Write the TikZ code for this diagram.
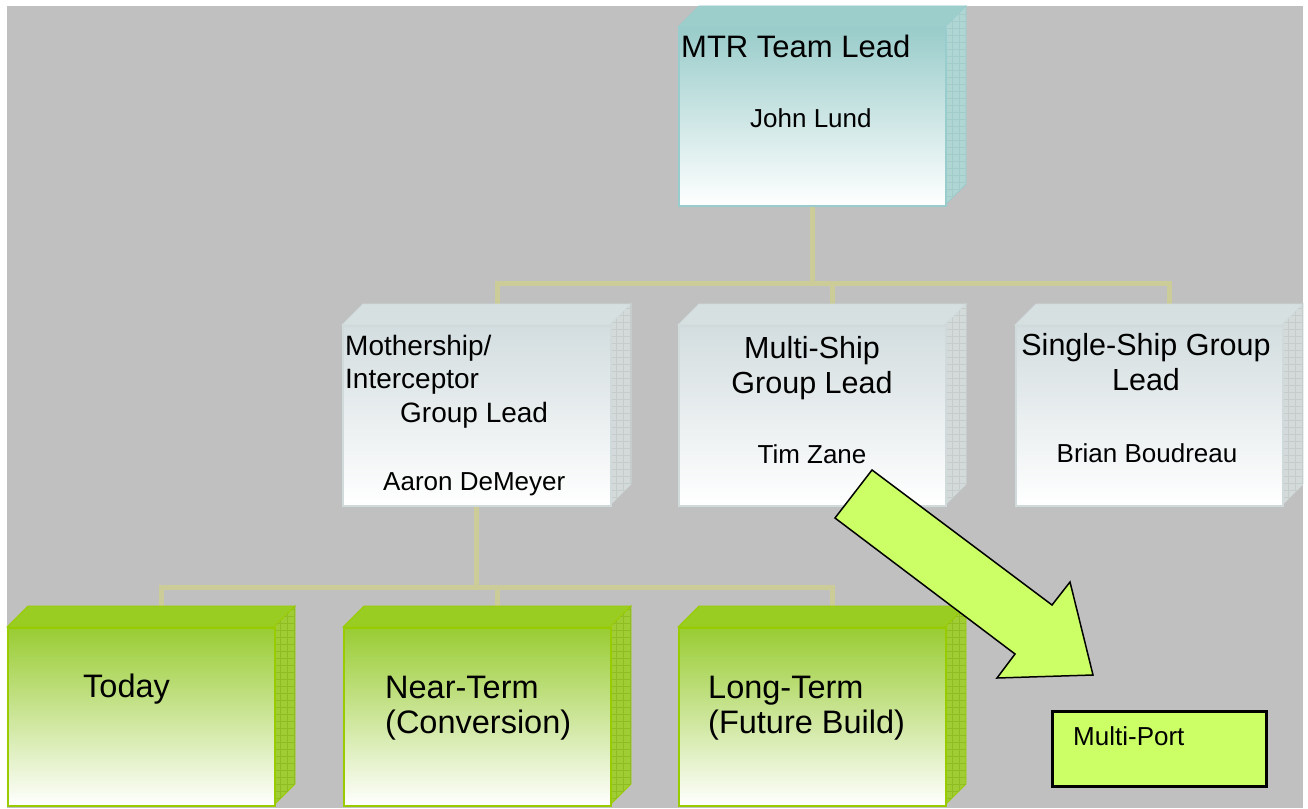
\documentclass[tikz,border=0pt]{standalone}
\usepackage{fontspec}
\setmainfont{Liberation Sans}
\usetikzlibrary{backgrounds}

% colour schemes: F = front gradient top, T = top face, S = side face, G = side grid, L = outline
\definecolor{bgc}{HTML}{C0C0C0}
\definecolor{connc}{HTML}{CCCC99}
\definecolor{limec}{HTML}{CCFF66}
\definecolor{Fteal}{HTML}{99CCCA}
\definecolor{Tteal}{HTML}{9CCFCC}
\definecolor{Steal}{HTML}{B0D6D4}
\definecolor{Gteal}{HTML}{A2CCCA}
\definecolor{Lteal}{HTML}{99CCCC}
\definecolor{Fgrey}{HTML}{D3DDDF}
\definecolor{Tgrey}{HTML}{D6E0E1}
\definecolor{Sgrey}{HTML}{D4DADA}
\definecolor{Ggrey}{HTML}{C4CCCC}
\definecolor{Lgrey}{HTML}{D0DADB}
\definecolor{Fgreen}{HTML}{99CC33}
\definecolor{Tgreen}{HTML}{9ACD22}
\definecolor{Sgreen}{HTML}{A0CD34}
\definecolor{Ggreen}{HTML}{8EBC22}
\definecolor{Lgreen}{HTML}{99CC00}

\newcommand\setfs[1]{\fontsize{#1}{#1}\selectfont}

\tikzset{
  conn/.style={draw=connc, line width=5pt},
  lbl/.style={anchor=base west, inner sep=0pt},
  clbl/.style={anchor=base, inner sep=0pt},
  frontface/.style={inner sep=0pt, line width=1.5pt, anchor=north west},
  blockarrow/.style={fill=limec, draw=black, line width=1.5pt, line join=miter},
  portbox/.style={fill=limec, draw=black, line width=2.5pt, inner sep=0pt, anchor=north west},
}

% 3-D box: name, left, top, width, height, colour scheme
\newcommand\cubebox[6]{%
  \filldraw[fill=T#6, draw=L#6, line width=0.8pt]
    (#2,#3) -- ++(21,-21) -- ++(#4,0) -- ++(-21,21) -- cycle;
  \filldraw[fill=S#6, draw=L#6, line width=0.8pt]
    (#2+#4,#3) -- ++(21,-21) -- ++(0,#5) -- ++(-21,21) -- cycle;
  \begin{scope}
    \clip (#2+#4,#3) -- ++(21,-21) -- ++(0,#5) -- ++(-21,21) -- cycle;
    \draw[G#6, line width=0.4pt, step=7pt] (#2+#4,#3-21) grid (#2+#4+21,#3+#5);
  \end{scope}
  \node[frontface, draw=L#6, top color=F#6, bottom color=white,
        minimum width=#4pt, minimum height=#5pt] (#1) at (#2,#3) {};
  \coordinate (#1-top) at (#2+#4/2+21,#3-21);
}

\begin{document}
\begin{tikzpicture}[x=1pt,y=-1pt]
\useasboundingbox (0,0) rectangle (1308,808);

% boxes
\cubebox{lead}{678}{27}{267}{178}{teal}
\cubebox{mid1}{342}{325}{268}{180}{grey}
\cubebox{mid2}{678}{325}{267}{180}{grey}
\cubebox{mid3}{1015}{325}{267}{180}{grey}
\cubebox{low1}{7}{627}{267}{178}{green}
\cubebox{low2}{343}{627}{267}{178}{green}
\cubebox{low3}{678}{627}{267}{178}{green}

% backdrop and connectors
\begin{scope}[on background layer]
  \fill[bgc] (7,6) rectangle (1303,808);
  \draw[conn] (lead.south) -- ++(0,77) -| (mid1-top);
  \draw[conn] (lead.south) -- ++(0,77) -| (mid2-top);
  \draw[conn] (lead.south) -- ++(0,77) -| (mid3-top);
  \draw[conn] (mid1.south) -- ++(0,81) -| (low1-top);
  \draw[conn] (mid1.south) -- ++(0,81) -| (low2-top);
  \draw[conn] (mid1.south) -- ++(0,81) -| (low3-top);
\end{scope}

% labels
\node[lbl, font=\setfs{31}] (leadT) at (681,57) {MTR Team Lead};
\node[lbl, font=\setfs{26}] (leadN) at (750,127) {John Lund};

\node[lbl, font=\setfs{28}] (m1a) at (345,355) {Mothership/};
\node[lbl, font=\setfs{28}] (m1b) at (345,388) {Interceptor};
\node[lbl, font=\setfs{28}] (m1c) at (400,422) {Group Lead};
\node[lbl, font=\setfs{26}] (m1n) at (383,490) {Aaron DeMeyer};

\node[clbl, font=\setfs{30.5}] (m2a) at (812,358) {Multi-Ship};
\node[clbl, font=\setfs{30.5}] (m2b) at (812,393) {Group Lead};
\node[clbl, font=\setfs{26}] (m2n) at (812,463) {Tim Zane};

\node[clbl, font=\setfs{30.5}] (m3a) at (1146,355) {Single-Ship Group};
\node[clbl, font=\setfs{30.5}] (m3b) at (1146,390) {Lead};
\node[clbl, font=\setfs{26}] (m3n) at (1147,462) {Brian Boudreau};

\node[lbl, font=\setfs{32.5}] (l1) at (83,697) {Today};
\node[lbl, font=\setfs{32.5}] (l2a) at (385,698) {Near-Term};
\node[lbl, font=\setfs{32.5}] (l2b) at (385,733) {(Conversion)};
\node[lbl, font=\setfs{32.5}] (l3a) at (708,698) {Long-Term};
\node[lbl, font=\setfs{32.5}] (l3b) at (708,733) {(Future Build)};

% port box and block arrow
\node[portbox, minimum width=214pt, minimum height=75pt] (port) at (1051,710) {};
\node[lbl, font=\setfs{26}] (portlbl) at (1073,745) {Multi-Port};

\filldraw[blockarrow] (872,470) -- (835,518) -- (1015,654) -- (997,678)
  -- (1093,675) -- (1070,582) -- (1052,605) -- cycle;
\end{tikzpicture}
\end{document}
